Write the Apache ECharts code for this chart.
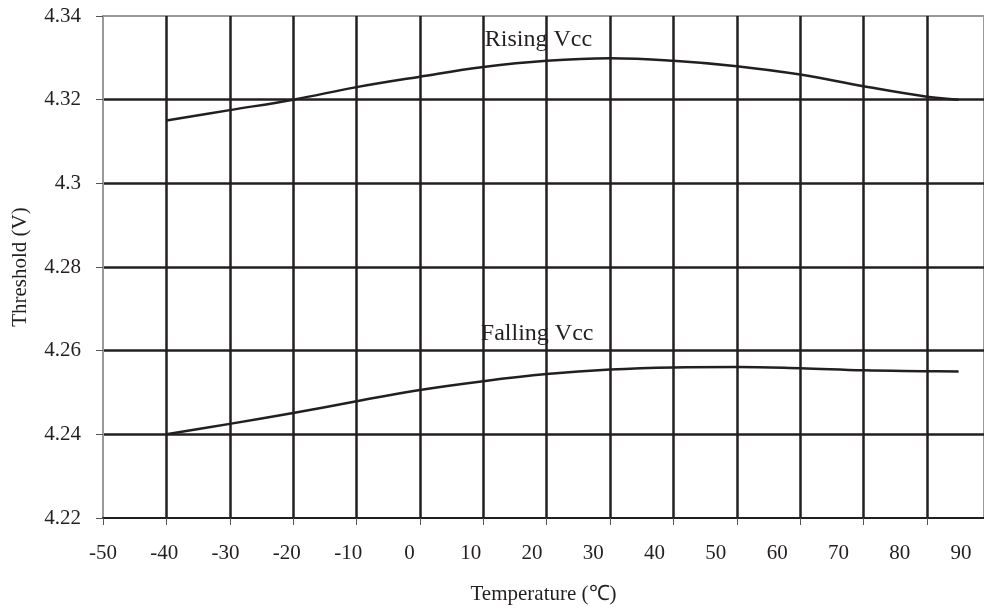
<!DOCTYPE html>
<html>
<head>
<meta charset="utf-8">
<script src="https://cdn.jsdelivr.net/npm/echarts@6/dist/echarts.min.js"></script>
<style>
  html, body { margin: 0; padding: 0; background: #fff; }
  #container { width: 984px; height: 613px; }
</style>
</head>
<body>
<div id="container"></div>
<script>
// temperature points (°C)
var temps = [-40, -30, -20, -10, 0, 10, 20, 30, 40, 50, 60, 70, 80, 85];
var rising = [4.3150, 4.3175, 4.3200, 4.3230, 4.3255, 4.3278, 4.3293, 4.3299, 4.3293, 4.3280, 4.3260, 4.3232, 4.3207, 4.3200];
var falling = [4.2400, 4.2425, 4.2451, 4.2479, 4.2506, 4.2527, 4.2544, 4.2555, 4.2560, 4.2561, 4.2558, 4.2553, 4.2551, 4.2550];
var yRange = [4.22, 4.34];
var xRange = [-50, 89];        // visible part of the temperature axis
var xLabelRange = [-50, 93.75]; // label row is spaced a bit tighter than the grid
var risingLabel = ['Rising Vcc', 18.7, 4.3343];
var fallingLabel = ['Falling Vcc', 18.5, 4.2640];

var ink = '#231f20';
var font = 'Liberation Serif, Times New Roman, serif';

var dom = document.getElementById('container');
var myChart = echarts.init(dom);

function pairs(ys) {
    return temps.map(function (t, i) { return [t, ys[i]]; });
}

function tag(item) {
    return {
        symbol: 'circle',
        symbolSize: 0,
        data: [{
            coord: [item[1], item[2]],
            label: {
                show: true,
                position: 'inside',
                formatter: item[0],
                color: ink,
                fontFamily: font,
                fontSize: 24
            }
        }]
    };
}

var option = {
    animation: false,
    grid: {
        left: 103, top: 16, right: 0, bottom: 95,
        show: true,
        borderColor: '#999',
        borderWidth: 2,
        backgroundColor: 'transparent'
    },
    xAxis: [{
        type: 'value',
        min: xRange[0],
        max: xRange[1],
        interval: 10,
        position: 'bottom',
        axisLine: { onZero: false, lineStyle: { color: ink, width: 2 } },
        axisTick: { show: true, length: 7, lineStyle: { color: '#555', width: 1 } },
        axisLabel: { show: false },
        splitLine: { show: true, showMinLine: false, showMaxLine: false, lineStyle: { color: ink, width: 2.5 } },
        name: 'Temperature (\u2103)',
        nameLocation: 'middle',
        nameGap: 66,
        nameTextStyle: { color: ink, fontFamily: font, fontSize: 21 }
    }, {
        type: 'value',
        min: xLabelRange[0],
        max: xLabelRange[1],
        interval: 10,
        position: 'bottom',
        axisLine: { show: false, onZero: false },
        axisTick: { show: false },
        splitLine: { show: false },
        axisLabel: {
            show: true,
            margin: 25,
            showMaxLabel: false,
            color: ink,
            fontFamily: font,
            fontSize: 21
        }
    }],
    yAxis: {
        type: 'value',
        min: yRange[0],
        max: yRange[1],
        interval: 0.02,
        axisLine: { show: true, onZero: false, lineStyle: { color: '#999', width: 2 } },
        axisTick: { show: true, length: 7, lineStyle: { color: '#555', width: 1 } },
        axisLabel: { margin: 22, color: ink, fontFamily: font, fontSize: 21 },
        splitLine: { show: true, showMinLine: false, showMaxLine: false, lineStyle: { color: ink, width: 2.5 } },
        name: 'Threshold (V)',
        nameLocation: 'middle',
        nameGap: 72,
        nameTextStyle: { color: ink, fontFamily: font, fontSize: 21 }
    },
    series: [{
        name: 'Rising Vcc',
        type: 'line',
        smooth: 0.4,
        showSymbol: false,
        lineStyle: { color: ink, width: 2.5 },
        data: pairs(rising),
        markPoint: tag(risingLabel)
    }, {
        name: 'Falling Vcc',
        type: 'line',
        smooth: 0.4,
        showSymbol: false,
        lineStyle: { color: ink, width: 2.5 },
        data: pairs(falling),
        markPoint: tag(fallingLabel)
    }]
};
myChart.setOption(option, true);
</script>
</body>
</html>
